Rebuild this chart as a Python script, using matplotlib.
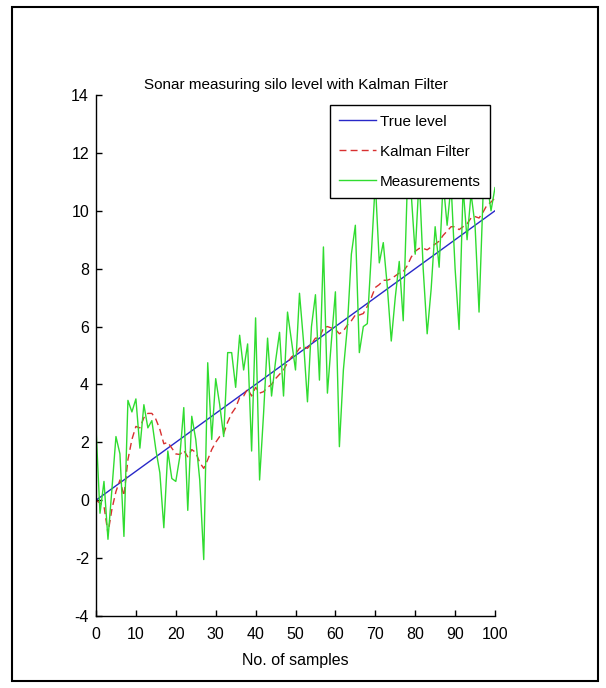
import numpy as np
import matplotlib
matplotlib.use("Agg")
import matplotlib.pyplot as plt
from matplotlib.patches import Rectangle

plt.rcParams['font.family'] = ['Liberation Sans Narrow', 'Liberation Sans', 'DejaVu Sans']
plt.rcParams['axes.unicode_minus'] = False

samples = np.arange(0, 101)
true_level = 0.1 * samples

measurements = [
    2.5, -0.45, 0.65, -1.35, 0.4, 2.2, 1.6, -1.25, 3.45, 3.05,
    3.5, 1.8, 3.3, 2.5, 2.75, 1.75, 0.95, -0.95, 1.7, 0.75,
    0.65, 1.5, 3.2, -0.35, 2.9, 2.1, 0.7, -2.05, 4.75, 2.1,
    4.2, 3.3, 2.2, 5.1, 5.1, 3.9, 5.7, 4.5, 5.4, 1.7,
    6.3, 0.7, 3.0, 5.6, 3.6, 4.8, 5.8, 3.6, 6.5, 5.5,
    4.5, 7.15, 5.5, 3.4, 6.0, 7.1, 4.15, 8.75, 3.7, 5.5,
    7.2, 1.85, 4.5, 6.0, 8.5, 9.5, 5.1, 6.0, 6.1, 8.5,
    11.0, 8.2, 8.9, 7.4, 5.5, 7.0, 8.25, 6.2, 10.8, 10.6,
    8.5, 11.2, 8.0, 5.75, 7.3, 9.45, 8.05, 11.0, 9.5, 10.9,
    8.0, 5.9, 10.8, 9.0, 10.6, 9.5, 6.5, 10.5, 11.0, 10.0,
    10.8,
]

kalman = [
    0.0, -0.1, -0.2, -1.15, -0.3, 0.3, 0.7, 0.15, 1.4, 2.1,
    2.55, 2.5, 2.85, 3.0, 3.0, 2.8, 2.45, 1.95, 2.0, 1.8,
    1.6, 1.58, 1.72, 1.5, 1.75, 1.65, 1.3, 1.1, 1.4, 1.75,
    2.0, 2.2, 2.3, 2.7, 3.0, 3.2, 3.55, 3.6, 3.85, 3.6,
    3.9, 3.7, 3.75, 3.9, 4.0, 4.2, 4.35, 4.5, 4.75, 4.95,
    5.05, 5.25, 5.3, 5.25, 5.4, 5.6, 5.6, 5.95, 6.0, 5.95,
    5.9, 5.75, 5.85, 6.05, 6.2, 6.4, 6.4, 6.45, 6.7, 7.0,
    7.35, 7.45, 7.6, 7.6, 7.65, 7.75, 7.85, 7.9, 8.1, 8.4,
    8.6, 8.7, 8.7, 8.65, 8.75, 8.85, 8.95, 9.15, 9.3, 9.45,
    9.45, 9.35, 9.45, 9.55, 9.75, 9.8, 9.75, 9.95, 10.2, 10.3,
    10.45,
]

x_ticks = list(range(0, 101, 10))
y_ticks = list(range(-4, 15, 2))

fig = plt.figure(figsize=(6.06, 6.88), dpi=100)
ax = fig.add_axes([96 / 606, 1 - 616 / 688, 399 / 606, 521 / 688])

ax.plot(samples, true_level, color='#2828c8', lw=1.0, label='True level')
ax.plot(samples, kalman, color='#d83030', lw=1.0, ls=(0, (5, 3)), label='Kalman Filter')
ax.plot(samples, measurements, color='#30dc30', lw=1.0, label='Measurements')

ax.set_xlim(0, 100)
ax.set_ylim(-4, 14)
ax.set_xticks(x_ticks)
ax.set_yticks(y_ticks)
ax.tick_params(direction='in', length=4, width=1, labelsize=11.5)
ax.tick_params(axis='x', pad=8)
ax.tick_params(axis='y', pad=5)
for side in ('top', 'right'):
    ax.spines[side].set_visible(False)
for side in ('left', 'bottom'):
    ax.spines[side].set_linewidth(1.0)

ax.set_title('Sonar measuring silo level with Kalman Filter', fontsize=11, pad=4)
ax.set_xlabel('No. of samples', fontsize=11.5, labelpad=8)

leg = ax.legend(loc='upper right', bbox_to_anchor=(0.988, 0.98), fontsize=11,
                frameon=True, fancybox=False, edgecolor='black', framealpha=1,
                handlelength=2.4, handletextpad=0.3, labelspacing=1.05,
                borderpad=0.6, borderaxespad=0)
leg.get_frame().set_linewidth(1.0)

# outer frame around the whole figure
fig.patches.append(Rectangle((12 / 606, 7 / 688), 586 / 606, 674 / 688,
                             transform=fig.transFigure, fill=False,
                             edgecolor='black', lw=1.5))

fig.savefig('out.png', dpi=100)
